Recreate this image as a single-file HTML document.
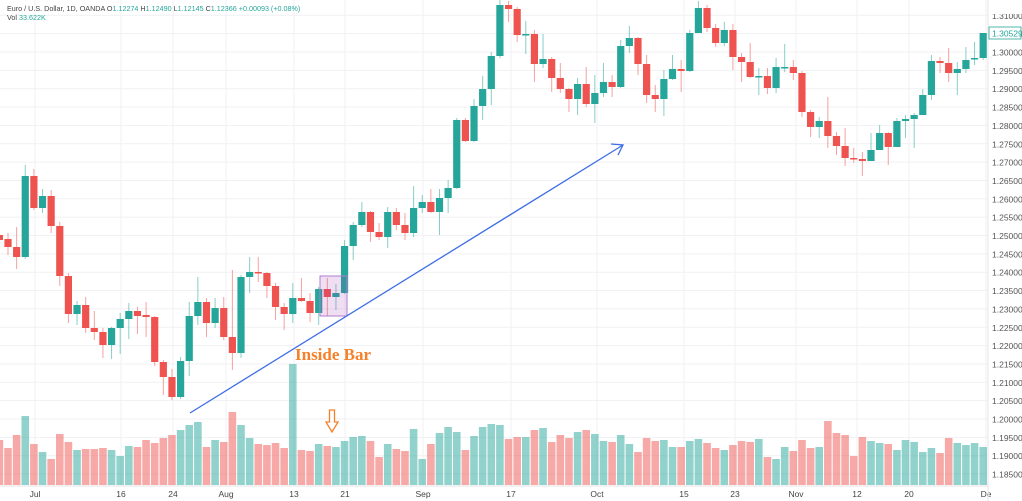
<!DOCTYPE html>
<html><head><meta charset="utf-8">
<style>
html,body{margin:0;padding:0;background:#fff;width:1022px;height:501px;overflow:hidden}
svg{display:block;font-family:"Liberation Sans",sans-serif}
</style></head><body>
<svg id="c" width="1022" height="501" viewBox="0 0 1022 501" xmlns="http://www.w3.org/2000/svg">
<g id="grid"></g>
<g id="vol"></g>
<g id="cand"></g>
<g id="over"></g>
</svg>
<script>
var NS="http://www.w3.org/2000/svg";
function el(p,t,a,txt){var e=document.createElementNS(NS,t);for(var k in a)e.setAttribute(k,a[k]);if(txt!==undefined)e.textContent=txt;p.appendChild(e);return e;}
var svg=document.getElementById('c'),G=document.getElementById('grid'),V=document.getElementById('vol'),C=document.getElementById('cand'),O=document.getElementById('over');
for(var k=0;k<=25;k++){var p=1.31-k*0.005;var y=52+(1.30-p)/0.005*18.35;
 el(G,'line',{x1:0,x2:988,y1:y,y2:y,stroke:'#f0f1f4','stroke-width':1});
 el(O,'text',{x:992,y:y+3.5,'font-size':'8.5',fill:'#555'},p.toFixed(5));}
var dl=[[35,'Jul'],[121,'16'],[173,'24'],[226,'Aug'],[294,'13'],[345,'21'],[423,'Sep'],[511,'17'],[597,'Oct'],[684,'15'],[735,'23'],[796,'Nov'],[857,'12'],[909,'20'],[986,'De']];
dl.forEach(function(d){el(G,'line',{x1:d[0],x2:d[0],y1:0,y2:486,stroke:'#f0f1f4','stroke-width':1});
 el(O,'text',{x:d[0],y:497,'font-size':'8.5',fill:'#444','text-anchor':'middle'},d[1]);});
var cd=[
['r',235,240,232,245],
['r',239,247,233,255],['r',247,257,227,269],['g',176,257,165,259],['r',176,208,169,210],['g',196,208,189,213],
['r',196,226,190,233],['r',226,276,222,286],['r',276,314,273,323],['g',305,314,301,325],['r',305,328,297,333],
['r',328,332,311,340],['r',332,345,328,358],['g',328,345,327,359],['g',319,328,313,354],['g',311,319,303,339],
['r',311,316,307,334],['r',315,317,302,337],['r',317,362,316,366],['r',362,377,360,395],['r',377,397,369,400],
['g',361,397,357,399],['g',316,361,302,376],['g',302,316,277,325],['r',302,323,298,337],['g',308,323,298,328],
['r',308,337,297,340],['r',337,353,270,370],['g',277,353,275,358],['g',272,277,257,293],['r',272,273,257,282],
['r',273,286,272,298],['r',286,307,283,320],['r',307,314,303,330],['g',298,314,283,323],['r',298,301,278,302],
['r',301,313,293,322],['g',289,313,287,325],['r',289,297,278,316],['g',293,297,284,310],['g',246,293,240,294],
['g',225,246,222,260],['g',212,225,202,227],['r',212,232,211,242],['r',232,237,223,240],['g',212,237,207,248],
['r',212,225,208,230],['r',225,233,213,240],['g',208,233,186,237],['g',202,208,195,213],['r',202,212,189,213],
['g',198,212,189,235],['g',188,198,180,213],['g',120,188,118,189],['r',120,141,118,142],['g',106,141,99,142],
['g',89,106,76,120],['g',56,89,52,105],['g',5,56,0,58],['r',5,9,1,22],['r',9,35,7,42],
['g',34,35,21,54],['r',34,64,30,82],['g',59,64,34,68],['r',59,78,57,92],['r',78,89,63,93],
['r',89,99,88,112],['g',84,99,78,115],['r',84,104,67,107],['g',93,104,75,123],['g',82,93,63,97],
['r',82,87,75,97],['g',46,87,40,88],['g',38,46,26,53],['r',38,64,37,75],['r',64,95,55,103],
['r',95,99,85,112],['g',79,99,70,116],['g',69,79,55,80],['r',69,71,60,92],['g',33,71,30,72],
['g',8,33,1,33],['r',8,28,5,32],['r',28,43,24,47],['g',30,43,22,46],['r',30,57,24,70],
['r',57,62,53,82],['r',62,77,43,78],['g',76,77,68,95],['r',76,88,68,94],['g',67,88,58,93],
['g',67,68,44,72],['r',67,73,60,80],['r',73,112,71,117],['r',112,127,110,137],['g',121,127,117,138],
['r',121,136,97,148],['r',136,146,132,155],['r',146,158,128,166],['r',158,159,148,163],['r',159,161,152,176],
['g',150,161,133,161],['g',133,150,125,150],['r',133,147,132,165],['g',121,147,118,147],['g',119,121,115,138],
['g',115,119,113,148],['g',95,115,89,115],['g',61,95,55,100],['r',61,63,57,73],['r',63,73,48,82],
['g',69,73,62,95],['g',60,69,47,73],['g',58,59,42,65],['g',33,58,33,60]];
var vt=[440,448,435,416,444,452,459,434,442,450,449,449,448,450,456,446,447,440,443,438,435,430,425,422,447,440,442,412,425,438,444,445,443,448,364,450,451,444,446,447,441,437,436,441,457,444,449,451,429,459,444,433,427,432,450,436,427,424,425,439,437,437,430,428,442,435,438,432,430,434,441,442,435,444,452,438,441,440,447,447,441,439,443,448,450,445,441,442,439,457,459,447,451,440,448,447,421,433,435,456,437,441,443,444,450,440,442,452,448,453,438,443,445,443,447];
var GR='#26a69a',RD='#ef5350';
for(var i=0;i<cd.length;i++){var x=8+(i-1)*8.63;var c=cd[i];var col=c[0]=='g'?GR:RD;
 var vy=vt[i];el(V,'rect',{x:x-3.8,y:vy,width:7.6,height:485-vy,fill:col,'fill-opacity':0.5});
 el(C,'line',{x1:x,x2:x,y1:c[3],y2:c[4],stroke:col,'stroke-width':1,'stroke-opacity':0.55});
 el(C,'rect',{x:x-3.6,y:c[1],width:7.2,height:Math.max(1.5,c[2]-c[1]),fill:col});}
</script>
<svg width="1022" height="501" style="position:absolute;left:0;top:0" xmlns="http://www.w3.org/2000/svg">
<line x1="0" y1="486" x2="988" y2="486" stroke="#e6e6ea"/>
<line x1="988" y1="0" x2="988" y2="501" stroke="#e6e6ea"/>
<rect x="989" y="0" width="33" height="14" fill="#fff"/>
<rect x="989" y="27" width="32" height="12" fill="#fff" stroke="#26a69a" stroke-width="0.8"/>
<text x="992" y="36.5" font-size="8.5" fill="#26a69a" font-family="Liberation Sans,sans-serif">1.30529</text>
<rect x="320" y="276" width="27" height="40" fill="#9c27b0" fill-opacity="0.15" stroke="#b07ccf" stroke-width="1"/>
<line x1="190" y1="413" x2="623" y2="145" stroke="#3d6ee6" stroke-width="1.3"/>
<polyline points="611,144 623,145 618,155" fill="none" stroke="#3d6ee6" stroke-width="1.3"/>
<text x="295" y="360" font-size="17" font-weight="bold" fill="#f5812b" font-family="Liberation Serif,serif">Inside Bar</text>
<path d="M329.5,410 h5 v12 h3.5 l-6,10 l-6,-10 h3.5 z" fill="#fff" stroke="#f5812b" stroke-width="1.3"/>
<text x="7" y="11" font-size="7.2" fill="#444" font-family="Liberation Sans,sans-serif">Euro / U.S. Dollar, 1D, OANDA  O<tspan fill="#26a69a">1.12274</tspan>  H<tspan fill="#26a69a">1.12490</tspan>  L<tspan fill="#26a69a">1.12145</tspan>  C<tspan fill="#26a69a">1.12366  +0.00093 (+0.08%)</tspan></text>
<text x="7" y="20" font-size="7.2" fill="#444" font-family="Liberation Sans,sans-serif">Vol  <tspan fill="#26a69a">33.622K</tspan></text>
</svg>
</body></html>
